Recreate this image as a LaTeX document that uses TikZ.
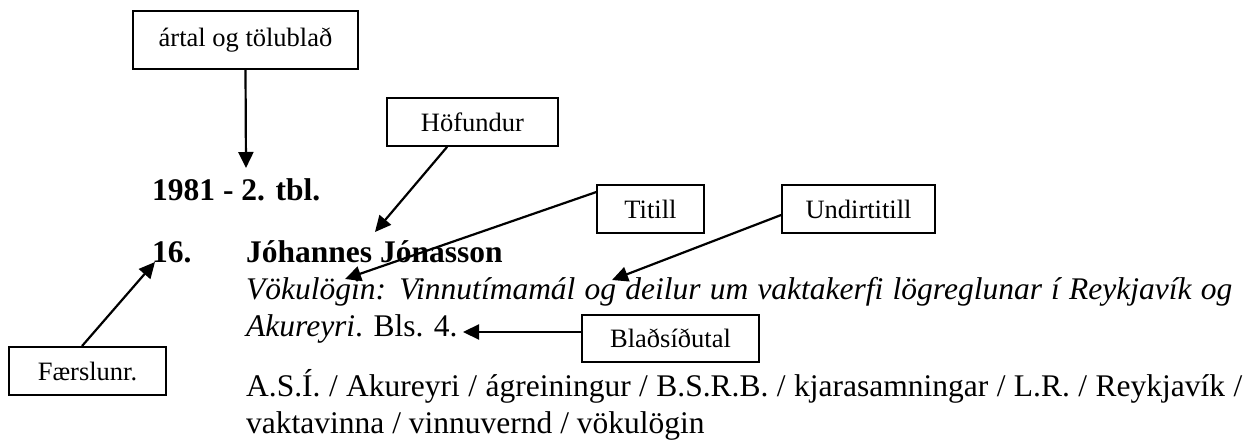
\documentclass[tikz,border=0pt]{standalone}
\usepackage{fontspec}
\setmainfont{Liberation Serif}
\usetikzlibrary{arrows.meta,positioning,calc}
\tikzset{
  labelbox/.style={draw=black, line width=1.8pt, inner sep=0pt, font=\fontsize{26.5}{30}\selectfont, text=black},
  pointer/.style={line width=2.2pt, -{Triangle[length=16pt,width=15pt]}},
  txt/.style={anchor=base west, inner sep=0pt, text=black},
}
\begin{document}
\begin{tikzpicture}[x=1pt,y=1pt]
\useasboundingbox (0,0) rectangle (1253,-443);
% label boxes
\node[labelbox, minimum width=225pt, minimum height=58pt] (ar) at (245.5,-40) {ártal og tölublað};
\node[labelbox, minimum width=171pt, minimum height=48pt] (hof) at (472.5,-122) {Höfundur};
\node[labelbox, minimum width=107pt, minimum height=48pt] (tit) at (650.5,-209) {Titill};
\node[labelbox, minimum width=153pt, minimum height=48pt] (und) at (858.5,-209) {Undirtitill};
\node[labelbox, minimum width=177pt, minimum height=47pt] (bla) at (670.5,-338.5) {Blaðsíðutal};
\node[labelbox, minimum width=157pt, minimum height=48pt] (fae) at (87.5,-371) {Færslunr.};
% record text
\node[txt, font=\fontsize{31.5}{36}\selectfont\bfseries] (year) at (152,-201) {1981 - 2. tbl.};
\node[txt, font=\fontsize{31.5}{36}\selectfont\bfseries] (num) at (152,-263) {16.};
\node[txt, font=\fontsize{31.5}{36}\selectfont\bfseries] (auth) at (246,-263) {Jóhannes Jónasson};
\node[txt, font=\fontsize{31.5}{36}\selectfont\itshape] (title1) at (246,-300) {\makebox[986pt][s]{Vökulögin: Vinnutímamál og deilur um vaktakerfi lögreglunar í Reykjavík og}};
\node[txt, font=\fontsize{31.5}{36}\selectfont] (title2) at (246,-337) {\textit{Akureyri}. Bls. 4.};
\node[txt, font=\fontsize{31.5}{36}\selectfont] (kw1) at (246,-397) {\makebox[996pt][s]{A.S.Í. / Akureyri / ágreiningur / B.S.R.B. / kjarasamningar / L.R. / Reykjavík /}};
\node[txt, font=\fontsize{31.5}{36}\selectfont] (kw2) at (246,-433) {vaktavinna / vinnuvernd / vökulögin};
% arrow tips
\coordinate (tipyear) at (246,-168);
\coordinate (tipauth) at (375,-232);
\coordinate (tiptit) at (345,-279);
\coordinate (tipund) at (612,-280);
\coordinate (tipbla) at (463,-332);
\coordinate (tipnum) at (155,-262);
% pointers
\draw[pointer] (ar.south) -- (tipyear);
\draw[pointer] ([xshift=61pt]hof.south west) -- (tipauth);
\draw[pointer] ([yshift=-8pt]tit.north west) -- (tiptit);
\draw[pointer] ([yshift=-6pt]und.west) -- (tipund);
\draw[pointer] ([yshift=6.5pt]bla.west) -- (tipbla);
\draw[pointer] ([xshift=-5.5pt]fae.north) -- (tipnum);
\end{tikzpicture}
\end{document}
